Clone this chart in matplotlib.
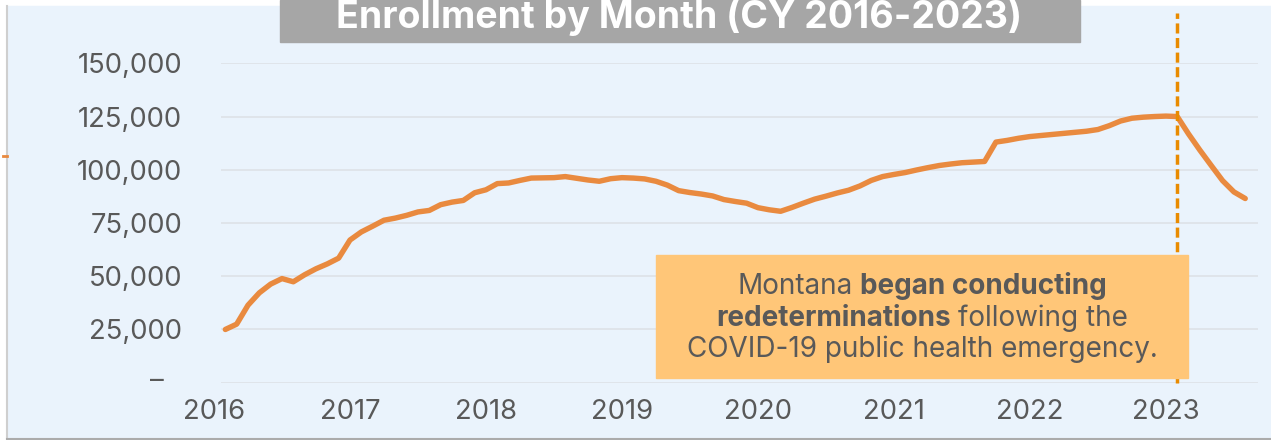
"""Enrollment by Month (CY 2016-2023) - line chart with redetermination note."""
import matplotlib

matplotlib.use("Agg")
import matplotlib.pyplot as plt
import numpy as np
from matplotlib.lines import Line2D
from matplotlib.patches import Rectangle

plt.rcParams["font.family"] = ["Inter", "DejaVu Sans"]

W, H, DPI = 1271, 440, 100

# monthly enrollment, Feb 2016 .. Aug 2023 (month 0 = Jan 2016)
enrollment = [
    25000, 27500, 36400, 42200, 46300, 48900, 47400, 50700, 53500, 55800, 58500,
    67000, 70800, 73500, 76300, 77300, 78600, 80200, 80900, 83600, 84800, 85600, 89200,
    90600, 93500, 93800, 95000, 96100, 96200, 96300, 96800, 96000, 95200, 94600, 95800,
    96300, 96100, 95700, 94600, 92800, 90200, 89300, 88600, 87700, 86000, 85100, 84300,
    82200, 81200, 80500, 82300, 84300, 86200, 87600, 89100, 90400, 92400, 95000, 96800,
    97800, 98700, 99900, 101000, 102000, 102700, 103300, 103600, 103900, 113000, 113800,
    114800, 115600, 116100, 116600, 117100, 117600, 118100, 118900, 120700, 122900, 124200,
    124700, 125000, 125200, 125000, 116800, 109200, 102000, 94900, 89600, 86500,
]
months = np.arange(1, len(enrollment) + 1)
year_ticks = [0, 12, 24, 36, 48, 60, 72, 84]
year_labels = ["2016", "2017", "2018", "2019", "2020", "2021", "2022", "2023"]
y_ticks = [0, 25000, 50000, 75000, 100000, 125000, 150000]
redetermination_month = 85

title = "Enrollment by Month (CY 2016-2023)"
note_lines = [
    [("Montana", "normal"), ("began conducting", "bold")],
    [("redeterminations", "bold"), ("following the", "normal")],
    [("COVID-19 public health emergency.", "normal")],
]

PANEL = "#EAF3FC"
GRID = "#DDE1E7"
LINE = "#E98A3F"
DASH = "#E98B00"
NOTE_BG = "#FFC678"
TEXT = "#595959"
TITLE_BG = "#A6A6A6"


def fx(x):
    return x / W


def fy(y):
    return 1 - y / H


def text_width(fig, renderer, s, size, weight="normal"):
    t = fig.text(0, 0, s, fontsize=size, fontweight=weight)
    w = t.get_window_extent(renderer).width
    t.remove()
    return w


def fit_size(fig, renderer, s, target, weight="normal"):
    return 20 * target / text_width(fig, renderer, s, 20, weight)


def main():
    fig = plt.figure(figsize=(W / DPI, H / DPI), dpi=DPI)
    fig.patch.set_facecolor("white")
    renderer = fig.canvas.get_renderer()

    # background panel with its thin shadow edges
    fig.patches.append(Rectangle((fx(7), fy(438)), fx(W - 7), (438 - 6) / H,
                                 transform=fig.transFigure, color=PANEL, zorder=-10))
    fig.lines.append(Line2D([fx(7), fx(7)], [fy(6), fy(438)], transform=fig.transFigure,
                            color="#CFCFCF", lw=1.5, zorder=-9))
    fig.lines.append(Line2D([fx(7), fx(W)], [fy(438.5), fy(438.5)], transform=fig.transFigure,
                            color="#ABABAB", lw=1.5, zorder=-9))
    fig.lines.append(Line2D([fx(3), fx(7)], [fy(156), fy(156)], transform=fig.transFigure,
                            color=LINE, lw=2, zorder=-9))

    ax = fig.add_axes([fx(214), fy(382.7), fx(1257.7 - 214), (382.7 - 63.3) / H])
    ax.set_facecolor("none")
    for s in ax.spines.values():
        s.set_visible(False)
    ax.set_xlim(0, 92.1)
    ax.set_ylim(0, 150000)

    ax.hlines(y_ticks, 0.62, 92.1, color=GRID, lw=1.2, zorder=1)
    ax.plot(months, enrollment, color=LINE, lw=3.9, solid_joinstyle="round",
            solid_capstyle="round", zorder=3)
    ax.axvline(redetermination_month, ymin=0, ymax=(382.7 - 13) / (382.7 - 63.3),
               color=DASH, lw=2.5, linestyle=(0, (2.9, 1.3)), clip_on=False, zorder=4)

    tick_size = fit_size(fig, renderer, "150,000", 105)
    ax.set_yticks(y_ticks, [f"{v:,}" if v else "" for v in y_ticks])
    ax.set_xticks(year_ticks, year_labels)
    ax.tick_params(axis="y", length=0, pad=23, labelsize=tick_size, labelcolor=TEXT)
    ax.tick_params(axis="x", length=0, pad=12, labelsize=tick_size, labelcolor=TEXT)
    ax.annotate("–", xy=(0, 0), xycoords=("axes fraction", "data"), xytext=(-50, 2),
                textcoords="offset pixels", ha="right", va="center",
                fontsize=tick_size, color=TEXT)

    # title bar at the top edge
    fig.patches.append(Rectangle((fx(280), fy(41.7)), fx(800), 41.7 / H,
                                 transform=fig.transFigure, color=TITLE_BG, zorder=5))
    title_size = fit_size(fig, renderer, title, 687, "bold")
    fig.text(fx(679), fy(28), title, ha="center", va="baseline", color="white",
             fontsize=title_size, fontweight="bold", zorder=6)

    # note box
    fig.patches.append(Rectangle((fx(656), fy(378)), fx(1188 - 656), (378 - 255) / H,
                                 transform=fig.transFigure, color=NOTE_BG, zorder=5))
    note_size = fit_size(fig, renderer, note_lines[2][0][0], 471)
    space = (text_width(fig, renderer, "a a", note_size)
             - text_width(fig, renderer, "aa", note_size))
    for pieces, base in zip(note_lines, [294, 325.5, 357.3]):
        widths = [text_width(fig, renderer, s, note_size, w) for s, w in pieces]
        total = sum(widths) + space * (len(pieces) - 1)
        x = 922 - total / 2
        for (s, w), pw in zip(pieces, widths):
            fig.text(fx(x), fy(base), s, ha="left", va="baseline", color=TEXT,
                     fontsize=note_size, fontweight=w, zorder=6)
            x += pw + space

    fig.savefig("out.png", dpi=DPI)
    plt.close(fig)


if __name__ == "__main__":
    main()
